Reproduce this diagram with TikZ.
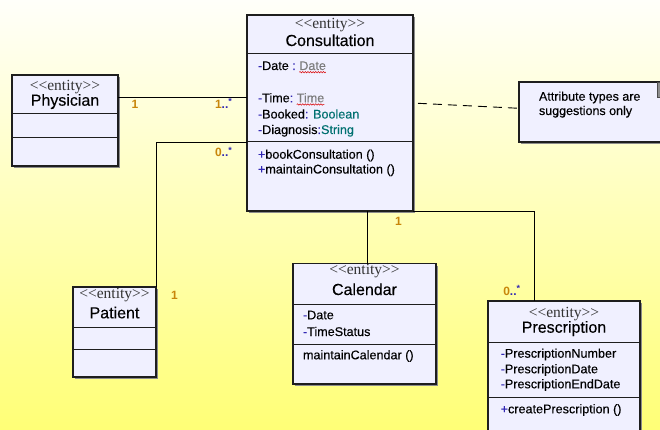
\documentclass[tikz,border=0pt]{standalone}
\usepackage{fontspec}
\setmainfont{Liberation Sans}[UprightFeatures={FakeBold=0.25}]
\newfontfamily\stereofont{Liberation Serif}
\usetikzlibrary{shadows,decorations.pathmorphing}

\definecolor{boxfill}{RGB}{240,240,255}
\definecolor{boxline}{RGB}{30,30,30}
\definecolor{vis}{RGB}{50,40,180}
\definecolor{typegray}{RGB}{125,125,125}
\definecolor{typeteal}{RGB}{0,112,112}
\definecolor{mult}{RGB}{200,134,10}
\definecolor{bgtop}{RGB}{255,255,250}
\definecolor{bgmid}{RGB}{255,255,205}
\definecolor{bgbot}{RGB}{255,255,118}

% visibility marks and separators in blue
\newcommand\vi[1]{\textcolor{vis}{#1}}
% stereotype label; the kerns keep the angle brackets from merging
\newcommand\entitylabel{<\kern0pt<entity>\kern0pt>}
% multiplicity with a raised star
\newcommand\many[1]{\textcolor{mult}{#1}\textcolor{vis}{..\raisebox{3.5pt}{\fontsize{9}{9}\selectfont *}}}

\begin{document}
\begin{tikzpicture}[x=1pt,y=-1pt,
  every node/.style={inner sep=0pt, outer sep=0pt},
  cls/.style={draw=boxline, line width=1.2pt, fill=boxfill, anchor=north west,
    drop shadow={shadow xshift=2pt, shadow yshift=-2pt, fill=black!45, opacity=1}},
  notebox/.style={draw=boxline, line width=1.1pt, fill=boxfill, anchor=north west,
    drop shadow={shadow xshift=2pt, shadow yshift=-2pt, fill=black!45, opacity=1}},
  divider/.style={draw=boxline, line width=1pt},
  link/.style={draw=black, line width=0.9pt},
  stereo/.style={anchor=base, font=\stereofont\fontsize{15.5}{15.5}\selectfont, text=black!80},
  cname/.style={anchor=base, font=\fontsize{16}{16}\selectfont},
  member/.style={anchor=base west, font=\fontsize{12.6}{12.6}\selectfont},
  typeword/.style={member, text=typegray},
  notetext/.style={anchor=base west, font=\fontsize{12.5}{12.5}\selectfont},
  multlabel/.style={anchor=base west, font=\bfseries\fontsize{12}{12}\selectfont, text=mult},
  spell/.style={draw=red!85!black, line width=0.5pt,
    decorate, decoration={snake, amplitude=0.7pt, segment length=2.6pt}}
]
\useasboundingbox (0,0) rectangle (660,430);
\clip (0,0) rectangle (660,430);

% background
\shade[top color=bgtop, middle color=bgmid, bottom color=bgbot] (0,0) rectangle (660,430);

% classes
\node[cls, minimum width=166pt, minimum height=196pt] (cons) at (247,15) {};
\node[cls, minimum width=106pt, minimum height=91pt] (phys) at (12,75) {};
\node[cls, minimum width=83pt, minimum height=90pt] (pat) at (73,287) {};
\node[cls, minimum width=143pt, minimum height=120.5pt] (cal) at (293,263.5) {};
\node[cls, minimum width=152pt, minimum height=160pt] (presc) at (488,301) {};

% compartment separators
\draw[divider] (cons.west |- 0,54) -- (cons.east |- 0,54);
\draw[divider] (cons.west |- 0,142) -- (cons.east |- 0,142);
\draw[divider] (phys.west |- 0,114) -- (phys.east |- 0,114);
\draw[divider] (phys.west |- 0,138) -- (phys.east |- 0,138);
\draw[divider] (pat.west |- 0,327) -- (pat.east |- 0,327);
\draw[divider] (pat.west |- 0,349) -- (pat.east |- 0,349);
\draw[divider] (cal.west |- 0,304) -- (cal.east |- 0,304);
\draw[divider] (cal.west |- 0,344) -- (cal.east |- 0,344);
\draw[divider] (presc.west |- 0,342) -- (presc.east |- 0,342);
\draw[divider] (presc.west |- 0,397) -- (presc.east |- 0,397);

% note
\node[notebox, minimum width=160pt, minimum height=60pt] (note) at (519,82) {};
\filldraw[fill=black!45, draw=black!70, line width=0.6pt] (657.5,82) rectangle (662,97);

% Consultation
\node[stereo] (consS) at (330,28.3) {\entitylabel};
\node[cname] (consN) at (330,46) {Consultation};
\node[member] (c1) at (258,70) {\vi{-}Date \vi{:}};
\node[typeword] (c1t) at ([xshift=3.5pt]c1.base east) {Date};
\node[member] (c2) at (258,102.3) {\vi{-}Time\vi{:}};
\node[typeword] (c2t) at ([xshift=3.5pt]c2.base east) {Time};
\node[member] (c3) at (258,118.5) {\vi{-}Booked\vi{:} \textcolor{typeteal}{Boolean}};
\node[member] (c4) at (258,134) {\vi{-}Diagnosis\vi{:}\textcolor{typeteal}{String}};
\node[member] (c5) at (258,158.7) {\vi{+}bookConsultation ()};
\node[member] (c6) at (258,173.5) {\vi{+}maintainConsultation ()};
\draw[spell] ([yshift=-2.2pt]c1t.base west) -- ([yshift=-2.2pt]c1t.base east);
\draw[spell] ([yshift=-2.2pt]c2t.base west) -- ([yshift=-2.2pt]c2t.base east);

% Physician
\node[stereo] (physS) at (65,91) {\entitylabel};
\node[cname] (physN) at (65,105.7) {Physician};

% Patient
\node[stereo] (patS) at (114.5,298.3) {\entitylabel};
\node[cname] (patN) at (114.5,318.3) {Patient};

% Calendar
\node[stereo] (calS) at (364.5,274) {\entitylabel};
\node[cname] (calN) at (364.5,295) {Calendar};
\node[member] (k1) at (303,319.3) {\vi{-}Date};
\node[member] (k2) at (303,336) {\vi{-}TimeStatus};
\node[member] (k3) at (303,359.3) {maintainCalendar ()};

% Prescription
\node[stereo] (prS) at (564,317.3) {\entitylabel};
\node[cname] (prN) at (564,332.7) {Prescription};
\node[member] (p1) at (500.7,357.7) {\vi{-}PrescriptionNumber};
\node[member] (p2) at (500.7,373.3) {\vi{-}PrescriptionDate};
\node[member] (p3) at (500.7,388.3) {\vi{-}PrescriptionEndDate};
\node[member] (p4) at (500.7,413.3) {\vi{+}createPrescription ()};

% note text
\node[notetext] (n1) at (539,100.7) {Attribute types are};
\node[notetext] (n2) at (539,115) {suggestions only};

% associations
\draw[link] (phys.east |- 0,97.3) -- (cons.west |- 0,97.3);
\draw[link] (cons.west |- 0,142) -| (pat.north east);
\draw[link] ([xshift=3pt]cal.north) -- ([xshift=3pt]cal.north |- cons.south);
\draw[link] (cons.south east) -| ([xshift=-29.7pt]presc.north);
\draw[link, dash pattern=on 9pt off 6pt] ([xshift=5pt]cons.east |- 0,103.3) -- (note.west |- 0,108.3);

% multiplicities
\node[multlabel] (m1) at (131.5,108.3) {1};
\node[multlabel] (m2) at (215,108.3) {\many{1}};
\node[multlabel] (m3) at (215,156.7) {\many{0}};
\node[multlabel] (m4) at (171,299) {1};
\node[multlabel] (m5) at (395,225) {1};
\node[multlabel] (m6) at (503.3,295) {\many{0}};
\end{tikzpicture}
\end{document}
